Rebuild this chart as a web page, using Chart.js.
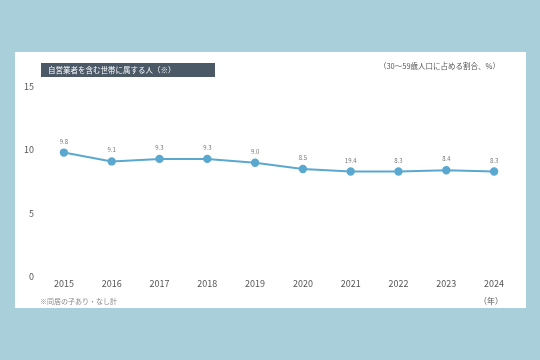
<!DOCTYPE html>
<html>
<head>
<meta charset="utf-8">
<script src="https://cdn.jsdelivr.net/npm/chart.js@4.4.1/dist/chart.umd.min.js"></script>
<style>
  html, body { margin: 0; padding: 0; }
  body { width: 540px; height: 360px; background: #a9cfda; position: relative; overflow: hidden; }
  #panel { position: absolute; left: 15px; top: 52px; width: 511px; height: 256px; background: #ffffff; }
  #wrap { position: absolute; left: 0; top: 0; width: 540px; height: 360px; }
</style>
</head>
<body>
<div id="panel"></div>
<div id="wrap"><canvas id="myChart" width="540" height="360"></canvas></div>
<script>
var years = ["2015", "2016", "2017", "2018", "2019", "2020", "2021", "2022", "2023", "2024"];
var shares = [9.8, 9.1, 9.3, 9.3, 9.0, 8.5, 8.3, 8.3, 8.4, 8.3];
var pointLabels = ["9.8", "9.1", "9.3", "9.3", "9.0", "8.5", "19.4", "8.3", "8.4", "8.3"];
var yTicks = [0, 5, 10, 15];

var FONT = "'Noto Sans CJK JP', 'Noto Sans', sans-serif";

// titles, notes and point labels drawn on top of the chart
var extras = {
  id: "extras",
  afterDraw: function(chart) {
    var ctx = chart.ctx;
    ctx.save();

    // title box
    ctx.fillStyle = "#4b5967";
    ctx.fillRect(41, 63, 174, 14);
    ctx.fillStyle = "#ffffff";
    ctx.font = "7.5px " + FONT;
    ctx.textBaseline = "middle";
    ctx.textAlign = "left";
    ctx.fillText("自営業者を含む世帯に属する人（※）", 48, 70.5);

    // unit note
    ctx.fillStyle = "#555555";
    ctx.font = "7.5px " + FONT;
    ctx.textAlign = "right";
    ctx.fillText("（30～59歳人口に占める割合、%）", 500, 66);

    // footnotes
    ctx.fillStyle = "#888888";
    ctx.textAlign = "left";
    ctx.font = "7px " + FONT;
    ctx.fillText("※同居の子あり・なし計", 40, 301);
    ctx.fillStyle = "#555555";
    ctx.font = "8px " + FONT;
    ctx.textAlign = "center";
    ctx.fillText("（年）", 491, 301);

    // point labels
    var meta = chart.getDatasetMeta(0);
    ctx.fillStyle = "#777777";
    ctx.font = "6px " + FONT;
    ctx.textAlign = "center";
    ctx.textBaseline = "alphabetic";
    meta.data.forEach(function(pt, i) {
      ctx.fillText(pointLabels[i], pt.x, pt.y - 9);
    });

    ctx.restore();
  }
};

var ctx = document.getElementById("myChart").getContext("2d");
var chart = new Chart(ctx, {
  type: "line",
  data: {
    labels: years,
    datasets: [{
      data: shares,
      borderColor: "#5aa8d0",
      backgroundColor: "#5aa8d0",
      borderWidth: 2,
      pointRadius: 3.2,
      pointHoverRadius: 3.2,
      tension: 0
    }]
  },
  options: {
    responsive: false,
    animation: false,
    layout: { padding: { left: 18, right: 22, top: 87, bottom: 69 } },
    plugins: { legend: { display: false }, tooltip: { enabled: false } },
    scales: {
      x: {
        offset: true,
        grid: { display: false, drawTicks: false, tickLength: 0 },
        border: { display: false },
        ticks: { color: "#555555", font: { size: 9, family: FONT }, padding: 2, maxRotation: 0 }
      },
      y: {
        min: 0,
        max: 15,
        afterBuildTicks: function(axis) {
          axis.ticks = yTicks.map(function(v) { return { value: v }; });
        },
        grid: { display: false, drawTicks: false, tickLength: 0 },
        border: { display: false },
        ticks: { color: "#555555", font: { size: 9, family: FONT }, padding: 6 }
      }
    }
  },
  plugins: [extras]
});
</script>
</body>
</html>
